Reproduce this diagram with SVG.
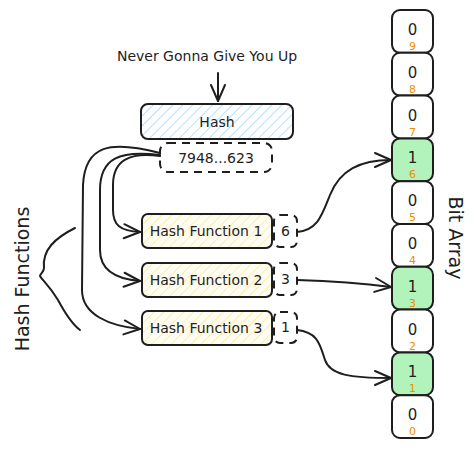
<svg xmlns="http://www.w3.org/2000/svg" width="474" height="451" viewBox="0 0 474 451">
<defs>
<pattern id="hb" patternUnits="userSpaceOnUse" width="7" height="7" patternTransform="rotate(45)">
<rect width="7" height="7" fill="#ffffff"/>
<line x1="0" y1="0" x2="0" y2="7" stroke="#a5d8ff" stroke-width="1.6"/>
</pattern>
<pattern id="hy" patternUnits="userSpaceOnUse" width="7" height="7" patternTransform="rotate(45)">
<rect width="7" height="7" fill="#fffdf3"/>
<line x1="0" y1="0" x2="0" y2="7" stroke="#ffec99" stroke-width="1.8"/>
</pattern>
<marker id="ah" viewBox="0 0 20 20" refX="18" refY="10" markerWidth="20" markerHeight="20" markerUnits="userSpaceOnUse" orient="auto">
<path d="M2,3 L18,10 L2,17" fill="none" stroke="#1e1e1e" stroke-width="2" stroke-linecap="round" stroke-linejoin="round"/>
</marker>
</defs>
<style>
text{font-family:"DejaVu Sans","Liberation Sans",sans-serif;fill:#1e1e1e}
.box{stroke:#1e1e1e;stroke-width:2}
.dash{fill:#fff;stroke:#1e1e1e;stroke-width:2;stroke-dasharray:8 6}
.cell{fill:#fff;stroke:#1e1e1e;stroke-width:2}
.on{fill:#b2f2bb}
.bit{font-size:15px;text-anchor:middle}
.idx{font-size:11px;text-anchor:middle;fill:#f08c00}
.lbl{font-size:14px;text-anchor:middle}
.con{fill:none;stroke:#1e1e1e;stroke-width:2;stroke-linecap:round}
</style>
<rect width="474" height="451" fill="#ffffff"/>

<g id="title"><text x="207" y="61" font-size="14" text-anchor="middle">Never Gonna Give You Up</text></g>

<g id="hash">
<rect class="box" x="141" y="104" width="152" height="35" rx="7" fill="url(#hb)"/>
<text class="lbl" x="217" y="127">Hash</text>
</g>
<g id="digest">
<rect class="dash" x="160" y="143" width="112" height="29" rx="8"/>
<text class="lbl" x="216" y="163" font-size="15">7948...623</text>
</g>

<g id="hf1"><rect class="box" x="142" y="214" width="130" height="34" rx="6" fill="url(#hy)"/><text class="lbl" x="206" y="236">Hash Function 1</text></g>
<g id="hf2"><rect class="box" x="142" y="263" width="130" height="34" rx="6" fill="url(#hy)"/><text class="lbl" x="206" y="285">Hash Function 2</text></g>
<g id="hf3"><rect class="box" x="142" y="311" width="130" height="34" rx="6" fill="url(#hy)"/><text class="lbl" x="206" y="333">Hash Function 3</text></g>

<g id="v6"><rect class="dash" x="274" y="215" width="23" height="32" rx="6" stroke-dasharray="7 5"/><text class="lbl" x="285.5" y="236">6</text></g>
<g id="v3"><rect class="dash" x="274" y="263" width="23" height="32" rx="6" stroke-dasharray="7 5"/><text class="lbl" x="285.5" y="284">3</text></g>
<g id="v1"><rect class="dash" x="274" y="312" width="23" height="31" rx="6" stroke-dasharray="7 5"/><text class="lbl" x="285.5" y="332">1</text></g>

<g id="bits">
<g id="b9"><rect class="cell" x="392" y="10" width="41" height="42.8" rx="8"/><text class="bit" x="412.5" y="35">0</text><text class="idx" x="412.5" y="50">9</text></g>
<g id="b8"><rect class="cell" x="392" y="52.8" width="41" height="42.8" rx="8"/><text class="bit" x="412.5" y="77.8">0</text><text class="idx" x="412.5" y="92.8">8</text></g>
<g id="b7"><rect class="cell" x="392" y="95.6" width="41" height="42.8" rx="8"/><text class="bit" x="412.5" y="120.6">0</text><text class="idx" x="412.5" y="135.6">7</text></g>
<g id="b6"><rect class="cell on" x="392" y="138.4" width="41" height="42.8" rx="8"/><text class="bit" x="412.5" y="163.4">1</text><text class="idx" x="412.5" y="178.4">6</text></g>
<g id="b5"><rect class="cell" x="392" y="181.2" width="41" height="42.8" rx="8"/><text class="bit" x="412.5" y="206.2">0</text><text class="idx" x="412.5" y="221.2">5</text></g>
<g id="b4"><rect class="cell" x="392" y="224" width="41" height="42.8" rx="8"/><text class="bit" x="412.5" y="249">0</text><text class="idx" x="412.5" y="264">4</text></g>
<g id="b3"><rect class="cell on" x="392" y="266.8" width="41" height="42.8" rx="8"/><text class="bit" x="412.5" y="291.8">1</text><text class="idx" x="412.5" y="306.8">3</text></g>
<g id="b2"><rect class="cell" x="392" y="309.6" width="41" height="42.8" rx="8"/><text class="bit" x="412.5" y="334.6">0</text><text class="idx" x="412.5" y="349.6">2</text></g>
<g id="b1"><rect class="cell on" x="392" y="352.4" width="41" height="42.8" rx="8"/><text class="bit" x="412.5" y="377.4">1</text><text class="idx" x="412.5" y="392.4">1</text></g>
<g id="b0"><rect class="cell" x="392" y="395.2" width="41" height="42.8" rx="8"/><text class="bit" x="412.5" y="420.2">0</text><text class="idx" x="412.5" y="435.2">0</text></g>
</g>

<g id="bitlabel"><text x="0" y="0" font-size="19" text-anchor="middle" transform="translate(449,238) rotate(90)">Bit Array</text></g>
<g id="hflabel"><text x="0" y="0" font-size="19" text-anchor="middle" transform="translate(29,279) rotate(-90)">Hash Functions</text></g>

<g id="connectors">
<path class="con" d="M218,73 L218,101" marker-end="url(#ah)"/>
<path class="con" d="M160,156 C130,152 113,160 113,185 L113,210 C113,225 120,231 140,232" marker-end="url(#ah)"/>
<path class="con" d="M160,155 C120,150 100,158 100,190 L100,250 C100,270 115,279 140,281" marker-end="url(#ah)"/>
<path class="con" d="M160,153 C110,140 85,145 83,185 L82,290 C82,315 110,326 140,329" marker-end="url(#ah)"/>
<path class="con" d="M297,232 C318,230 322,215 330,195 C340,170 360,160 391,160" marker-end="url(#ah)"/>
<path class="con" d="M297,280 C330,281 360,283 391,287" marker-end="url(#ah)"/>
<path class="con" d="M297,330 C318,332 320,345 325,360 C330,375 350,378 391,378" marker-end="url(#ah)"/>
<path class="con" d="M75,228 C55,238 42,250 44,268 C44,272 40,274 40,276 C42,280 48,284 58,300 C66,315 72,324 80,330"/>
</g>
</svg>
